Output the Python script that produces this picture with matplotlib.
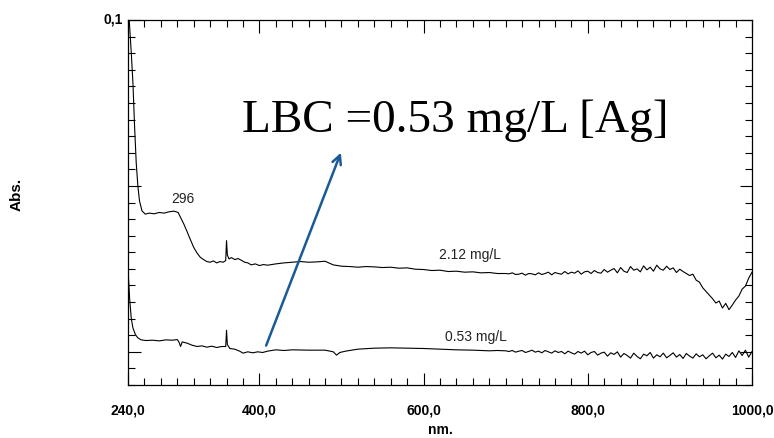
import matplotlib
matplotlib.use("Agg")
import matplotlib.pyplot as plt
from matplotlib.ticker import MultipleLocator, FixedLocator, FuncFormatter

# ---------------- data ----------------
wl_hi = [240, 242, 244, 246, 248, 250, 252, 254, 257, 261, 266, 272, 278, 284, 290, 296,
         301, 304, 308, 312, 316, 320, 324, 328, 332, 336, 340, 344, 348, 352, 356, 359,
         360, 361, 363, 366, 370, 374, 378, 382, 386, 390, 395, 400, 405, 410, 420, 430,
         440, 450, 460, 470, 480, 490, 500, 510, 520, 530, 540, 550, 560, 570, 580, 590,
         600, 610, 620, 630, 640, 650, 660, 670, 680, 690,
         700, 704, 708, 712, 716, 720, 724, 728, 732, 736, 740, 744, 748, 752, 756, 760,
         764, 768, 772, 776, 780, 784, 788, 792, 796, 800, 804, 808, 812, 816, 820, 824,
         828, 832, 836, 840, 844, 848, 852, 856, 860, 864, 868, 872, 876, 880, 884, 888,
         892, 896, 900, 904, 908, 912, 916, 920, 924, 928, 932, 936, 940, 944, 948, 952,
         956, 960, 964, 968, 972, 976, 980, 984, 988, 992, 996, 1000]
abs_hi = [0.106, 0.098, 0.090, 0.081, 0.068, 0.057, 0.050, 0.0455, 0.0425, 0.0415, 0.0418,
          0.0416, 0.0420, 0.0418, 0.0422, 0.0424,
          0.0420, 0.0405, 0.0385, 0.0362, 0.0338, 0.0315, 0.0298, 0.0285, 0.0278, 0.0272,
          0.0270, 0.0274, 0.0268, 0.0272, 0.0270, 0.0275,
          0.0335, 0.0292, 0.0280, 0.0284, 0.0278, 0.0281, 0.0276, 0.0270, 0.0268, 0.0262,
          0.0265, 0.0260, 0.0263, 0.0261, 0.0265, 0.0268,
          0.0270, 0.0272, 0.0270, 0.0271, 0.0273, 0.0262, 0.0258, 0.0257, 0.0255, 0.0257,
          0.0256, 0.0254, 0.0255, 0.0252, 0.0253, 0.0249,
          0.0248, 0.0245, 0.0246, 0.0242, 0.0243, 0.0240, 0.0241, 0.0238, 0.0239, 0.0236,
          0.0236, 0.0235, 0.0238, 0.0233, 0.0234, 0.0237, 0.0231, 0.0236, 0.0235, 0.0232,
          0.0238, 0.0233, 0.0236, 0.0240, 0.0232, 0.0239, 0.0236, 0.0234, 0.0242, 0.0235,
          0.0240, 0.0237, 0.0244, 0.0234, 0.0241, 0.0243, 0.0236, 0.0245, 0.0239, 0.0237,
          0.0248, 0.0240, 0.0246, 0.0251, 0.0238, 0.0254, 0.0243, 0.0239, 0.0257, 0.0246,
          0.0250, 0.0241, 0.0259, 0.0247, 0.0255, 0.0243, 0.0261, 0.0250, 0.0246, 0.0258,
          0.0248, 0.0253, 0.0239, 0.0249, 0.0242, 0.0236, 0.0230, 0.0234, 0.0216, 0.0210,
          0.0193, 0.0182, 0.0171, 0.0160, 0.0147, 0.0153, 0.0132, 0.0146, 0.0127, 0.0141,
          0.0156, 0.0168, 0.0189, 0.0198, 0.0222, 0.0240]

wl_lo = [240, 242, 244, 246, 249, 252, 256, 262, 270, 278, 286, 294, 300, 302, 304, 306,
         312, 318, 324, 330, 336, 342, 348, 354, 359, 360, 361, 364, 370, 376, 380, 386,
         392, 398, 404, 410, 420, 430, 440, 460, 480, 490, 494, 498, 505, 520, 540, 560,
         580, 600, 620, 640, 660, 680, 690,
         700, 704, 708, 712, 716, 720, 724, 728, 732, 736, 740, 744, 748, 752, 756, 760,
         764, 768, 772, 776, 780, 784, 788, 792, 796, 800, 804, 808, 812, 816, 820, 824,
         828, 832, 836, 840, 844, 848, 852, 856, 860, 864, 868, 872, 876, 880, 884, 888,
         892, 896, 900, 904, 908, 912, 916, 920, 924, 928, 932, 936, 940, 944, 948, 952,
         956, 960, 964, 968, 972, 976, 980, 984, 988, 992, 996, 1000]
abs_lo = [0.0250, 0.0160, 0.0100, 0.0072, 0.0052, 0.0042, 0.0036, 0.0034, 0.0035, 0.0033,
          0.0036, 0.0035, 0.0037, 0.0030, 0.0016, 0.0030,
          0.0026, 0.0020, 0.0016, 0.0018, 0.0014, 0.0017, 0.0013, 0.0016, 0.0016, 0.0065,
          0.0022, 0.0010, 0.0008, 0.0002, -0.0004, 0.0000,
          -0.0003, 0.0000, -0.0002, 0.0002, 0.0006, 0.0004, 0.0006, 0.0005, 0.0005, 0.0000,
          -0.0010, -0.0002, 0.0002, 0.0008, 0.0011, 0.0012,
          0.0011, 0.0010, 0.0008, 0.0006, 0.0005, 0.0003, 0.0004,
          0.0003, 0.0001, 0.0004, -0.0001, 0.0002, 0.0004, -0.0002, 0.0001, 0.0005, -0.0001,
          0.0002, -0.0003, 0.0004, 0.0000, -0.0004, 0.0003, -0.0002, 0.0001, -0.0006, 0.0002,
          -0.0003, -0.0007, 0.0001, -0.0004, 0.0002, -0.0009, -0.0002, 0.0001, -0.0010, -0.0004,
          -0.0001, -0.0013, -0.0003, -0.0008, 0.0000, -0.0016, -0.0005, -0.0011, -0.0019, -0.0004,
          -0.0014, -0.0021, -0.0007, -0.0012, -0.0002, -0.0019, -0.0009, -0.0015, -0.0004, -0.0018,
          -0.0011, -0.0003, -0.0016, -0.0008, -0.0020, -0.0005, -0.0013, -0.0019, -0.0006, -0.0015,
          -0.0009, -0.0021, -0.0012, -0.0004, -0.0018, -0.0010, -0.0022, -0.0007, -0.0014, -0.0002,
          -0.0017, 0.0003, -0.0011, 0.0005, -0.0016, 0.0001]

x_ticks = [240, 400, 600, 800, 1000]
y_label_tick = [0.1]

# ---------------- figure ----------------
fig = plt.figure(figsize=(7.74, 4.38), dpi=100)
fig.patch.set_facecolor("white")
ax = fig.add_axes([128 / 774, 1 - 385 / 438, 624 / 774, 365 / 438])

ax.plot(wl_hi, abs_hi, color="black", lw=0.8)
ax.plot(wl_lo, abs_lo, color="black", lw=0.8)

ax.set_xlim(240, 1000)
ax.set_ylim(-0.01, 0.1)

sans = ["Liberation Sans", "DejaVu Sans"]

ax.xaxis.set_major_locator(FixedLocator(x_ticks))
ax.xaxis.set_minor_locator(MultipleLocator(20))
ax.yaxis.set_major_locator(FixedLocator([0.0, 0.05, 0.1]))
ax.yaxis.set_minor_locator(MultipleLocator(0.005))
ax.xaxis.set_major_formatter(FuncFormatter(lambda v, p: f"{v:.1f}".replace(".", ",")))
ax.yaxis.set_major_formatter(FuncFormatter(
    lambda v, p: f"{v:g}".replace(".", ",") if any(abs(v - t) < 1e-9 for t in y_label_tick) else ""))

ax.tick_params(which="both", direction="in", top=True, right=True, width=0.8, color="black")
ax.tick_params(which="major", length=9, pad=13)
ax.tick_params(which="minor", length=5)
ax.tick_params(axis="y", pad=4)
for lab in ax.get_xticklabels() + ax.get_yticklabels():
    lab.set_family(sans)
    lab.set_fontweight("bold")
    lab.set_fontsize(10)
for lab in ax.get_yticklabels():
    lab.set_verticalalignment("center")

for sp in ax.spines.values():
    sp.set_linewidth(0.9)

ax.set_xlabel("nm.", family=sans, fontweight="bold", fontsize=10, labelpad=4)
fig.text(17 / 774, 1 - 194 / 438, "Abs.", rotation=90, ha="center", va="center",
         family=sans, fontweight="bold", fontsize=11)

ax.text(307, 0.0448, "296", family=sans, fontsize=10, color="#222222", ha="center", va="baseline")
ax.text(619, 0.0280, "2.12 mg/L", family=sans, fontsize=10, color="#222222", ha="left", va="baseline")
ax.text(626, 0.0032, "0.53 mg/L", family=sans, fontsize=10, color="#222222", ha="left", va="baseline")

ax.annotate("", xy=(500.5, 0.0608), xytext=(407, 0.0011),
            arrowprops=dict(arrowstyle="->", color="#1a5a96", lw=1.8, mutation_scale=16))

fig.text(242 / 774, 1 - 132 / 438, "LBC =0.53 mg/L [Ag]", ha="left", va="baseline",
         family=["Liberation Serif", "DejaVu Serif"], fontsize=34, color="black")

fig.savefig("out.png", dpi=100, facecolor="white")
